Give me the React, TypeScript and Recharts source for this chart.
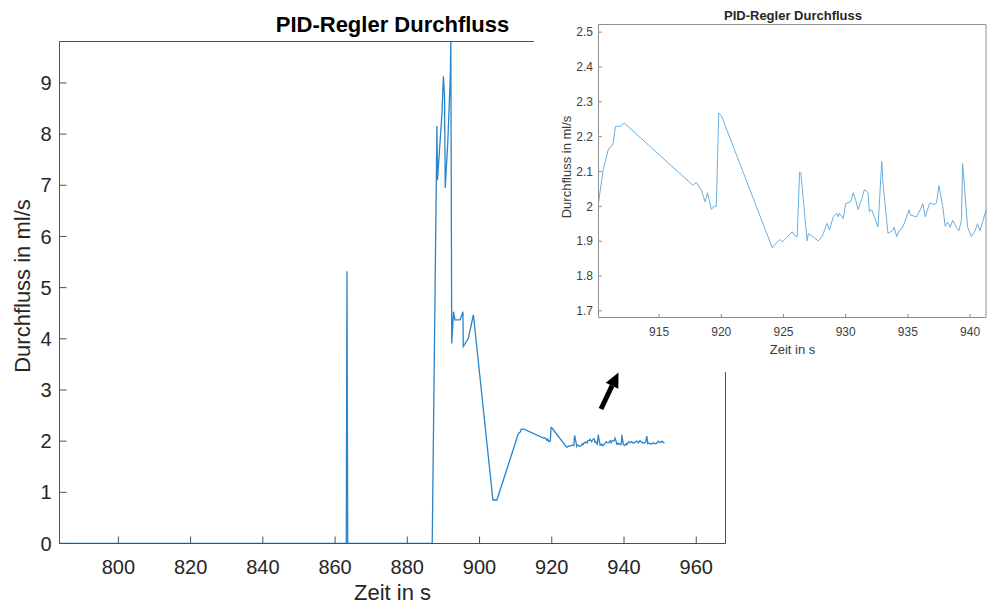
import { Line, LineChart, XAxis, YAxis } from 'recharts'

// Messzeit (s) und Durchfluss (ml/s)
const timeS = [
  783.7, 863.1, 863.3, 863.5, 886.9, 888.2, 888.35, 889.6, 890.0, 890.3, 890.5, 891.2, 891.9, 892.05,
  892.3, 892.8, 893.2, 894.6, 895.4, 895.5, 896.9, 898.3, 903.7, 904.8,
  910.1, 910.5, 910.9, 911.3, 911.5, 911.9, 912.2, 917.7, 918.0, 918.4, 918.7, 918.9, 919.2, 919.4,
  919.6, 919.8, 920.0, 924.1, 924.4, 924.7, 924.9, 925.2, 925.7, 925.9, 926.1, 926.3, 926.4, 926.9,
  927.0, 927.8, 928.1, 928.2, 928.5, 928.7, 929.0, 929.3, 929.4, 929.5, 929.8, 930.0, 930.4, 930.6,
  930.8, 931.0, 931.3, 931.5, 931.8, 931.9, 932.1, 932.3, 932.6, 932.9, 933.0, 933.4, 933.8, 933.9,
  934.1, 934.3, 934.5, 934.7, 934.9, 935.1, 935.2, 935.7, 936.0, 936.2, 936.4, 936.7, 936.8, 937.1,
  937.3, 937.5, 937.8, 938.0, 938.2, 938.4, 938.6, 938.9, 939.1, 939.3, 939.4, 939.8, 940.1, 940.4,
  940.6, 940.8, 941.0, 941.3,
  941.7, 942.1, 942.6, 943.0, 943.5, 944.0, 944.4, 944.9, 945.4, 946.0, 946.3, 946.6, 947.1, 947.6,
  948.1, 948.6, 949.1, 949.5, 950.0, 950.5, 951.2,
]

const flowMlS = [
  0, 0, 5.32, 0, 0, 8.16, 7.1, 8.41, 9.13, 8.74, 6.95, 7.83, 9.1, 9.8,
  3.91, 4.53, 4.37, 4.37, 4.53, 3.85, 4.01, 4.47, 0.85, 0.85,
  2.003, 2.104, 2.161, 2.18, 2.23, 2.23, 2.239, 2.061, 2.068, 2.046, 2.013, 2.039, 1.991, 2.0,
  2.0, 2.268, 2.261, 1.881, 1.894, 1.905, 1.898, 1.908, 1.927, 1.917, 1.913, 2.099, 2.094, 1.901,
  1.922, 1.901, 1.913, 1.922, 1.951, 1.932, 1.97, 1.98, 1.97, 1.98, 1.965, 2.008, 2.013, 2.039,
  2.018, 1.991, 2.022, 2.048, 2.04, 1.984, 1.99, 1.97, 1.941, 2.129, 2.066, 1.922, 1.932, 1.94,
  1.913, 1.93, 1.935, 1.951, 1.97, 1.99, 1.975, 1.97, 1.99, 2.008, 1.97, 2.004, 2.01, 2.005,
  2.01, 2.06, 2.0, 1.943, 1.955, 1.94, 1.96, 1.94, 1.93, 1.96, 2.123, 1.941, 1.913, 1.93,
  1.95, 1.93, 1.955, 1.99,
  1.97, 1.99, 1.96, 1.98, 2.0, 1.97, 2.01, 1.98, 1.96, 1.98, 2.1, 1.95, 1.96, 1.94,
  1.97, 1.95, 1.96, 2.0, 1.97, 2.0, 1.96,
]

const mainXTicks = [800, 820, 840, 860, 880, 900, 920, 940, 960]
const mainYTicks = [0, 1, 2, 3, 4, 5, 6, 7, 8, 9]
const zoomXTicks = [915, 920, 925, 930, 935, 940]
const zoomYTicks = [1.7, 1.8, 1.9, 2, 2.1, 2.2, 2.3, 2.4, 2.5]

const mainXDomain: [number, number] = [783.7, 968.1]
const mainYDomain: [number, number] = [0, 9.81]
const zoomXDomain: [number, number] = [910.13, 941.28]
const zoomYDomain: [number, number] = [1.681, 2.522]

const data = timeS.map((t, i) => ({ t, v: flowMlS[i] }))

const FONT = '"Liberation Sans", Arial, Helvetica, sans-serif'

// MATLAB-artiges Achsenkästchen: unten/links beschriftet, oben/rechts nur Striche
function boxAxes(
  xDomain: [number, number],
  yDomain: [number, number],
  xTicks: number[],
  yTicks: number[],
  o: { tickLen: number; xH: number; yW: number; xMargin: number; yMargin: number; color: string; tick: object },
) {
  const line = { stroke: o.color }
  return [
    <XAxis
      key="xb"
      dataKey="t"
      type="number"
      domain={xDomain}
      ticks={xTicks}
      interval={0}
      allowDataOverflow
      height={o.xH}
      tickSize={-o.tickLen}
      tickMargin={o.xMargin}
      tick={o.tick}
      axisLine={line}
      tickLine={line}
    />,
    <XAxis
      key="xt"
      xAxisId="top"
      orientation="top"
      dataKey="t"
      type="number"
      domain={xDomain}
      ticks={xTicks}
      interval={0}
      allowDataOverflow
      height={1}
      tickSize={-o.tickLen}
      tick={false}
      axisLine={line}
      tickLine={line}
    />,
    <YAxis
      key="yl"
      type="number"
      domain={yDomain}
      ticks={yTicks}
      interval={0}
      allowDataOverflow
      width={o.yW}
      tickSize={-o.tickLen}
      tickMargin={o.yMargin}
      tick={o.tick}
      axisLine={line}
      tickLine={line}
    />,
    <YAxis
      key="yr"
      yAxisId="right"
      orientation="right"
      type="number"
      domain={yDomain}
      ticks={yTicks}
      interval={0}
      allowDataOverflow
      width={1}
      tickSize={-o.tickLen}
      tick={false}
      axisLine={line}
      tickLine={line}
    />,
    // unsichtbare Linie, damit die Gegenachsen gezeichnet werden
    <Line
      key="ghost"
      xAxisId="top"
      yAxisId="right"
      dataKey="v"
      stroke="none"
      dot={false}
      activeDot={false}
      legendType="none"
      isAnimationActive={false}
    />,
  ]
}

export default function App() {
  const mainTick = { fill: '#262626', fontSize: 20, fontFamily: FONT }
  const zoomTick = { fill: '#404040', fontSize: 12, fontFamily: FONT }

  return (
    <div style={{ position: 'absolute', left: 0, top: 0, width: 987, height: 605, background: '#fff', overflow: 'hidden' }}>
      {/* Hauptdiagramm */}
      <div style={{ position: 'absolute', left: 0, top: 0 }}>
        <LineChart width={987} height={605} data={data} margin={{ top: 40.5, right: 260.5, bottom: 0, left: 0 }}>
          {boxAxes(mainXDomain, mainYDomain, mainXTicks, mainYTicks, {
            tickLen: 7,
            xH: 61.5,
            yW: 59.5,
            xMargin: 23,
            yMargin: 15,
            color: '#4f4f4f',
            tick: mainTick,
          })}
          <Line type="linear" dataKey="v" stroke="#2a84c9" strokeWidth={1.3} dot={false} isAnimationActive={false} />
        </LineChart>
      </div>

      <svg width={987} height={605} style={{ position: 'absolute', left: 0, top: 0, pointerEvents: 'none' }}>
        <text x={392.5} y={32.3} textAnchor="middle" fontFamily={FONT} fontSize={22} fontWeight="bold" fill="#000">
          PID-Regler Durchfluss
        </text>
        <text x={392.5} y={600} textAnchor="middle" fontFamily={FONT} fontSize={22} fill="#262626">
          Zeit in s
        </text>
        <text
          x={0}
          y={0}
          transform="translate(30 286) rotate(-90)"
          textAnchor="middle"
          fontFamily={FONT}
          fontSize={22}
          fill="#262626"
        >
          Durchfluss in ml/s
        </text>
      </svg>

      {/* Ausschnitt 910-941 s */}
      <div style={{ position: 'absolute', left: 534, top: 0, width: 453, height: 372, background: '#fff' }}>
        <LineChart width={453} height={372} data={data} margin={{ top: 23.5, right: 0, bottom: 0, left: 0 }}>
          {boxAxes(zoomXDomain, zoomYDomain, zoomXTicks, zoomYTicks, {
            tickLen: 3.5,
            xH: 54.5,
            yW: 64.5,
            xMargin: 13,
            yMargin: 9,
            color: '#8f8f8f',
            tick: zoomTick,
          })}
          <Line type="linear" dataKey="v" stroke="#6aaee0" strokeWidth={1} dot={false} isAnimationActive={false} />
        </LineChart>
      </div>

      <svg width={987} height={605} style={{ position: 'absolute', left: 0, top: 0, pointerEvents: 'none' }}>
        <text x={793} y={19.5} textAnchor="middle" fontFamily={FONT} fontSize={13} fontWeight="bold" fill="#262626">
          PID-Regler Durchfluss
        </text>
        <text x={792.5} y={353.5} textAnchor="middle" fontFamily={FONT} fontSize={13} fill="#3a3a3a">
          Zeit in s
        </text>
        <text
          x={0}
          y={0}
          transform="translate(571 167) rotate(-90)"
          textAnchor="middle"
          fontFamily={FONT}
          fontSize={13}
          fill="#3a3a3a"
        >
          Durchfluss in ml/s
        </text>
        {/* Pfeil */}
        <line x1={601} y1={409} x2={612} y2={385.7} stroke="#000" strokeWidth={5} />
        <polygon points="618.5,372.5 618.3,388.7 605.7,382.7" fill="#000" />
      </svg>
    </div>
  )
}
